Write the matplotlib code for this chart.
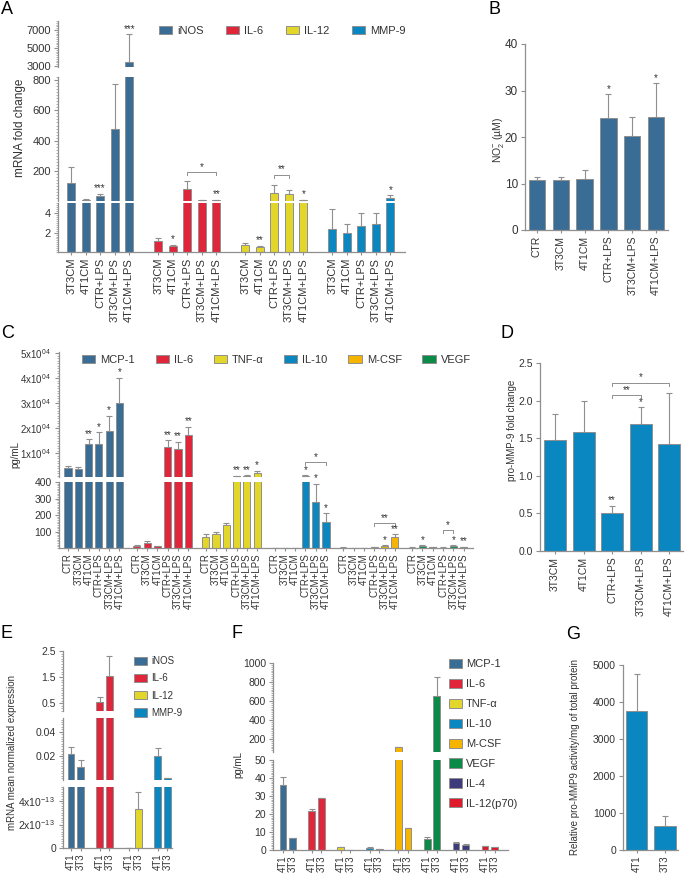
import matplotlib
matplotlib.use('Agg')
import matplotlib.pyplot as plt
from matplotlib.patches import Patch
from matplotlib.ticker import AutoMinorLocator
import numpy as np

plt.rcParams['font.family'] = ['Liberation Sans', 'DejaVu Sans']
plt.rcParams['mathtext.fontset'] = 'custom'
plt.rcParams['mathtext.rm'] = 'Liberation Sans'
plt.rcParams['mathtext.it'] = 'Liberation Sans'

# colours
C_BLUE1 = '#3a6d96'   # iNOS / MCP-1
C_RED = '#e1263b'     # IL-6
C_YEL = '#e2d62b'     # IL-12 / TNF-a
C_BLUE2 = '#0a86c1'   # MMP-9 / IL-10
C_MCSF = '#f4b400'
C_VEGF = '#0b8a48'
C_IL4 = '#3d3b7b'
C_P70 = '#df1a2a'
EDGE = '#8f8f8f'
TXT = '#333333'

# ---------------- data ----------------
# A: mRNA fold change
a_conditions = ['3T3CM', '4T1CM', 'CTR+LPS', '3T3CM+LPS', '4T1CM+LPS']
a_genes = ['iNOS', 'IL-6', 'IL-12', 'MMP-9']
a_inos = [120, 9, 33, 480, 3400]
a_inos_sd = [105, 9, 17, 293, 3150]
a_il6 = [1.1, 0.64, 80, 8, 8]
a_il6_sd = [0.3, 0.14, 55, 1, 1]
a_il12 = [0.7, 0.57, 58, 47, 8]
a_il12_sd = [0.2, 0.1, 53, 31, 1]
a_mmp9 = [2.4, 2.0, 2.7, 2.9, 22]
a_mmp9_sd = [2.0, 0.9, 1.3, 1.1, 18]
a_stars = [['', '', '***', '', '***'],
           ['', '*', '', '', '**'],
           ['', '**', '', '', '*'],
           ['', '', '', '', '*']]

# B: nitrite
b_conditions = ['CTR', '3T3CM', '4T1CM', 'CTR+LPS', '3T3CM+LPS', '4T1CM+LPS']
b_no2 = [10.8, 10.7, 11.0, 24.0, 20.3, 24.4]
b_no2_sd = [0.6, 0.7, 1.9, 5.2, 4.0, 7.2]
b_stars = ['', '', '', '*', '', '*']

# C: cytokines pg/mL
c_conditions = ['CTR', '3T3CM', '4T1CM', 'CTR+LPS', '3T3CM+LPS', '4T1CM+LPS']
c_cytokines = ['MCP-1', 'IL-6', 'TNF-α', 'IL-10', 'M-CSF', 'VEGF']
c_mcp1 = [4100, 3600, 13500, 13500, 18800, 29900]
c_mcp1_sd = [700, 900, 2100, 4800, 6200, 10200]
c_il6 = [14, 32, 12, 12500, 11700, 17400]
c_il6_sd = [5, 12, 3, 2700, 2800, 3100]
c_tnfa = [68, 82, 139, 800, 900, 1900]
c_tnfa_sd = [15, 16, 14, 100, 150, 1000]
c_il10 = [2, 1, 2, 900, 281, 156]
c_il10_sd = [1, 0.5, 1, 150, 109, 54]
c_mcsf = [3, 2, 2, 5, 12, 64]
c_mcsf_sd = [1, 1, 1, 2, 6, 18]
c_vegf = [3, 13, 5, 3, 12, 5]
c_vegf_sd = [1, 4, 2, 1, 4, 2]
c_stars = [['', '', '**', '*', '*', '*'],
           ['', '', '', '**', '**', '**'],
           ['', '', '', '**', '**', '*'],
           ['', '', '', '*', '*', '*'],
           ['', '', '', '', '*', '**'],
           ['', '*', '', '', '*', '**']]

# D: pro-MMP-9
d_conditions = ['3T3CM', '4T1CM', 'CTR+LPS', '3T3CM+LPS', '4T1CM+LPS']
d_fold = [1.47, 1.58, 0.51, 1.69, 1.42]
d_fold_sd = [0.35, 0.42, 0.09, 0.22, 0.68]
d_stars = ['', '', '**', '*', '']

# E: mRNA in tumour cells
e_lines = ['4T1', '3T3']
e_genes = ['iNOS', 'IL-6', 'IL-12', 'MMP-9']
e_inos = [0.0214, 0.0107]
e_inos_sd = [0.006, 0.006]
e_il6 = [0.54, 1.55]
e_il6_sd = [0.19, 0.75]
e_il12 = [2e-15, 3.35e-13]
e_il12_sd = [0, 1.45e-13]
e_mmp9 = [0.020, 0.0016]
e_mmp9_sd = [0.007, 0.0004]

# F: secreted by tumour cells
f_lines = ['4T1', '3T3']
f_cytokines = ['MCP-1', 'IL-6', 'TNF-α', 'IL-10', 'M-CSF', 'VEGF', 'IL-4', 'IL-12(p70)']
f_4t1 = [36, 21.5, 1.5, 1.0, 113, 6.3, 3.8, 2.2]
f_4t1_sd = [4.5, 1.5, 0, 0.5, 6, 1.0, 0.5, 0.3]
f_3t3 = [6.5, 29, 0.2, 0.3, 12, 650, 2.9, 1.4]
f_3t3_sd = [0, 0, 0, 0, 0, 205, 0.4, 0.3]

# G: pro-MMP9 activity
g_lines = ['4T1', '3T3']
g_activity = [3770, 650]
g_activity_sd = [990, 270]

# ---------------- helpers ----------------
W, H = 685, 875
fig = plt.figure(figsize=(W / 100, H / 100), dpi=100)


def px_ax(l, t, r, b):
    return fig.add_axes([l / W, 1 - b / H, (r - l) / W, (b - t) / H])


def style(ax, bottom=True, minor=0, fs=8):
    for s in ['top', 'right']:
        ax.spines[s].set_visible(False)
    for s in ['left', 'bottom']:
        ax.spines[s].set_color(EDGE)
        ax.spines[s].set_linewidth(0.9)
    ax.tick_params(colors=EDGE, labelcolor=TXT, labelsize=fs, length=3, width=0.8, pad=2)
    if minor:
        ax.yaxis.set_minor_locator(AutoMinorLocator(minor))
        ax.tick_params(axis='y', which='minor', length=1.5, width=0.5, color=EDGE)
    if not bottom:
        ax.spines['bottom'].set_visible(False)
        ax.tick_params(axis='x', bottom=False, labelbottom=False)


def broken(l, r, segs, xlim, fs=8):
    # segs from top to bottom: (top_px, bottom_px, ylo, yhi, yticks, yticklabels, minor)
    axs = []
    for i, (t, b, lo, hi, ticks, labels, minor) in enumerate(segs):
        ax = px_ax(l, t, r, b)
        ax.set_ylim(lo, hi)
        ax.set_xlim(*xlim)
        ax.set_yticks(ticks)
        if labels is not None:
            ax.set_yticklabels(labels)
        style(ax, bottom=(i == len(segs) - 1), minor=minor, fs=fs)
        axs.append(ax)
    return axs


def draw_bars(axs, x, vals, sds, color, w):
    x = np.asarray(x, dtype=float)
    vals = np.asarray(vals, dtype=float)
    sds = np.asarray(sds, dtype=float)
    for ax in axs:
        lo = ax.get_ylim()[0]
        kb = vals > lo
        ke = (vals + sds) > lo
        if kb.any():
            ax.bar(x[kb], vals[kb], w, color=color, edgecolor=EDGE, linewidth=0.7, zorder=2)
        if ke.any():
            ax.errorbar(x[ke], vals[ke], yerr=[np.zeros(ke.sum()), sds[ke]], fmt='none',
                        ecolor=EDGE, elinewidth=0.8, capsize=2, capthick=0.8, zorder=1)


def seg_for(axs, y):
    for ax in axs:
        lo, hi = ax.get_ylim()
        if lo <= y <= hi:
            return ax
    return min(axs, key=lambda a: min(abs(y - a.get_ylim()[0]), abs(y - a.get_ylim()[1])))


def star(axs, x, y, s, fs=7):
    if not s:
        return
    ax = seg_for(axs, y)
    ax.annotate(s, (x, y), xytext=(0, 0.3), textcoords='offset points',
                ha='center', va='bottom', fontsize=fs, color=TXT, annotation_clip=False)


def bracket(axs, x1, x2, y, s, drop=3, fs=7):
    ax = seg_for(axs, y)
    _, py = ax.transData.transform((x1, y))
    _, ylow = ax.transData.inverted().transform((0, py - drop))
    ax.plot([x1, x1, x2, x2], [ylow, y, y, ylow], color=EDGE, lw=0.7, clip_on=False)
    ax.annotate(s, ((x1 + x2) / 2, y), xytext=(0, 0.3), textcoords='offset points',
                ha='center', va='bottom', fontsize=fs, color=TXT, annotation_clip=False)


def xlabels(ax, x, labels, fs):
    ax.set_xticks(x)
    ax.set_xticklabels(labels, rotation=90, fontsize=fs)
    ax.tick_params(axis='x', length=2.5, pad=1.5)


def ylabel(x, y, s, fs):
    fig.text(x / W, 1 - y / H, s, rotation=90, ha='center', va='center', fontsize=fs, color=TXT)


def letter(x, y, s):
    fig.text(x / W, 1 - y / H, s, ha='left', va='top', fontsize=13, color='black')


def legend(colors, labels, x, y, **kw):
    handles = [Patch(facecolor=c, edgecolor=EDGE, linewidth=0.7) for c in colors]
    fig.legend(handles, labels, loc='upper left', bbox_to_anchor=(x / W, 1 - y / H),
               frameon=False, borderpad=0, borderaxespad=0, labelcolor=TXT, **kw)


# ---------------- Panel A ----------------
a_axs = broken(58, 405, [
    (21, 67, 2900, 8000, [3000, 5000, 7000], None, 10),
    (77, 200.6, 5, 820, [200, 400, 600, 800], None, 10),
    (203, 252.3, 0, 5, [2, 4], None, 10),
], xlim=(-0.9, 23.0), fs=8)
a_vals = [a_inos, a_il6, a_il12, a_mmp9]
a_sds = [a_inos_sd, a_il6_sd, a_il12_sd, a_mmp9_sd]
a_cols = [C_BLUE1, C_RED, C_YEL, C_BLUE2]
a_x_all, a_lab_all = [], []
for g in range(4):
    xs = [g * 6 + i for i in range(5)]
    draw_bars(a_axs, xs, a_vals[g], a_sds[g], a_cols[g], 0.55)
    for i in range(5):
        star(a_axs, xs[i], a_vals[g][i] + a_sds[g][i], a_stars[g][i])
    a_x_all += xs
    a_lab_all += a_conditions
bracket(a_axs, 6 + 2, 6 + 4, 193, '*')
bracket(a_axs, 12 + 2, 12 + 3, 174, '**')
xlabels(a_axs[-1], a_x_all, a_lab_all, 8)
legend(a_cols, a_genes, 159, 26, ncol=4, fontsize=8, handlelength=1.2, handleheight=0.75,
       handletextpad=0.45, columnspacing=2.0)
ylabel(20, 128, 'mRNA fold change', 8.5)
letter(1, 1, 'A')

# ---------------- Panel B ----------------
axb = px_ax(525, 44, 668, 230)
axb.set_ylim(0, 40)
axb.set_xlim(-0.5, 5.5)
axb.set_yticks([0, 10, 20, 30, 40])
style(axb, fs=8.5)
bx = np.arange(len(b_no2))
draw_bars([axb], bx, b_no2, b_no2_sd, C_BLUE1, 0.68)
for i in range(len(bx)):
    star([axb], bx[i], b_no2[i] + b_no2_sd[i], b_stars[i])
xlabels(axb, bx, b_conditions, 7.5)
ylabel(498, 140, r'NO$_2^{-}$ (µM)', 7.5)
letter(489, 1, 'B')

# ---------------- Panel C ----------------
c_axs = broken(59, 473, [
    (352, 477, 400, 50400, [10000, 20000, 30000, 40000, 50000],
     [r'%dx10$^{0\,4}$' % k for k in range(1, 6)], 10),
    (482, 548, 0, 400, [100, 200, 300, 400], None, 10),
], xlim=(-0.87, 39.3), fs=7.5)
c_axs[0].tick_params(axis='y', labelsize=7)
c_vals = [c_mcp1, c_il6, c_tnfa, c_il10, c_mcsf, c_vegf]
c_sds = [c_mcp1_sd, c_il6_sd, c_tnfa_sd, c_il10_sd, c_mcsf_sd, c_vegf_sd]
c_cols = [C_BLUE1, C_RED, C_YEL, C_BLUE2, C_MCSF, C_VEGF]
c_x_all, c_lab_all = [], []
for g in range(6):
    xs = [g * 6.68 + i for i in range(6)]
    draw_bars(c_axs, xs, c_vals[g], c_sds[g], c_cols[g], 0.7)
    for i in range(6):
        star(c_axs, xs[i], c_vals[g][i] + c_sds[g][i], c_stars[g][i])
    c_x_all += xs
    c_lab_all += c_conditions
bracket(c_axs, 3 * 6.68 + 3, 3 * 6.68 + 5, 6300, '*')
bracket(c_axs, 4 * 6.68 + 3, 4 * 6.68 + 5, 150, '**')
bracket(c_axs, 5 * 6.68 + 3, 5 * 6.68 + 4, 108, '*')
xlabels(c_axs[-1], c_x_all, c_lab_all, 7)
legend(c_cols, c_cytokines, 82, 355, ncol=6, fontsize=8, handlelength=1.2, handleheight=0.75,
       handletextpad=0.45, columnspacing=1.85)
ylabel(15, 455, 'pg/mL', 7)
letter(1, 325, 'C')

# ---------------- Panel D ----------------
axd = px_ax(540, 363, 683, 551)
axd.set_ylim(0, 2.5)
axd.set_xlim(-0.53, 4.49)
axd.set_yticks([0, 0.5, 1.0, 1.5, 2.0, 2.5])
axd.set_yticklabels(['0.0', '0.5', '1.0', '1.5', '2.0', '2.5'])
style(axd, fs=7.5)
dx = np.arange(len(d_fold))
draw_bars([axd], dx, d_fold, d_fold_sd, C_BLUE2, 0.77)
for i in range(len(dx)):
    star([axd], dx[i], d_fold[i] + d_fold_sd[i], d_stars[i])
bracket([axd], 2, 3, 2.07, '**')
bracket([axd], 2, 4, 2.24, '*')
xlabels(axd, dx, d_conditions, 7.5)
ylabel(512, 430, 'pro-MMP-9 fold change', 7)
letter(500, 325, 'D')

# ---------------- Panel E ----------------
e_axs = broken(63, 172, [
    (651, 711, 0.2, 2.5, [0.5, 1.5, 2.5], ['0.5', '1.5', '2.5'], 10),
    (717.7, 780.3, 1e-4, 0.0515, [0.02, 0.04], ['0.02', '0.04'], 10),
    (787, 848, 0, 5.2e-13, [0, 2e-13, 4e-13], ['0', r'2x10$^{-1\,3}$', r'4x10$^{-1\,3}$'], 10),
], xlim=(-0.83, 10.5), fs=7.5)
e_vals = [e_inos, e_il6, e_il12, e_mmp9]
e_sds = [e_inos_sd, e_il6_sd, e_il12_sd, e_mmp9_sd]
e_x_all, e_lab_all = [], []
for g in range(4):
    xs = [g * 3 + i for i in range(2)]
    draw_bars(e_axs, xs, e_vals[g], e_sds[g], a_cols[g], 0.7)
    e_x_all += xs
    e_lab_all += e_lines
xlabels(e_axs[-1], e_x_all, e_lab_all, 7)
legend(a_cols, e_genes, 134, 656, ncol=1, fontsize=7, handlelength=1.3, handleheight=0.9,
       handletextpad=0.5, labelspacing=0.75)
ylabel(12, 752, 'mRNA mean normalized expression', 7)
letter(1, 625, 'E')

# ---------------- Panel F ----------------
f_axs = broken(273, 508, [
    (663, 752, 63, 1000, [200, 400, 600, 800, 1000], None, 10),
    (760, 850, 0, 50, [0, 10, 20, 30, 40, 50], None, 10),
], xlim=(-1.04, 23.4), fs=7.5)
f_cols = [C_BLUE1, C_RED, C_YEL, C_BLUE2, C_MCSF, C_VEGF, C_IL4, C_P70]
f_x_all, f_lab_all = [], []
for g in range(len(f_cytokines)):
    xs = [g * 3, g * 3 + 1]
    draw_bars(f_axs, xs, [f_4t1[g], f_3t3[g]], [f_4t1_sd[g], f_3t3_sd[g]], f_cols[g], 0.7)
    f_x_all += xs
    f_lab_all += f_lines
xlabels(f_axs[-1], f_x_all, f_lab_all, 7)
legend(f_cols, f_cytokines, 449, 659, ncol=1, fontsize=8, handlelength=1.2, handleheight=0.9,
       handletextpad=0.35, labelspacing=0.85)
ylabel(238, 765, 'pg/mL', 7)
letter(231, 625, 'F')

# ---------------- Panel G ----------------
axg = px_ax(623, 665, 678, 850)
axg.set_ylim(0, 5000)
axg.set_xlim(-0.48, 1.46)
axg.set_yticks([0, 1000, 2000, 3000, 4000, 5000])
style(axg, fs=7.5)
gx = np.arange(len(g_activity))
draw_bars([axg], gx, g_activity, g_activity_sd, C_BLUE2, 0.75)
xlabels(axg, gx, g_lines, 7)
ylabel(575, 757, 'Relative pro-MMP9 activity/mg of total protein', 7)
letter(566, 626, 'G')

fig.savefig('out.png', dpi=100)
